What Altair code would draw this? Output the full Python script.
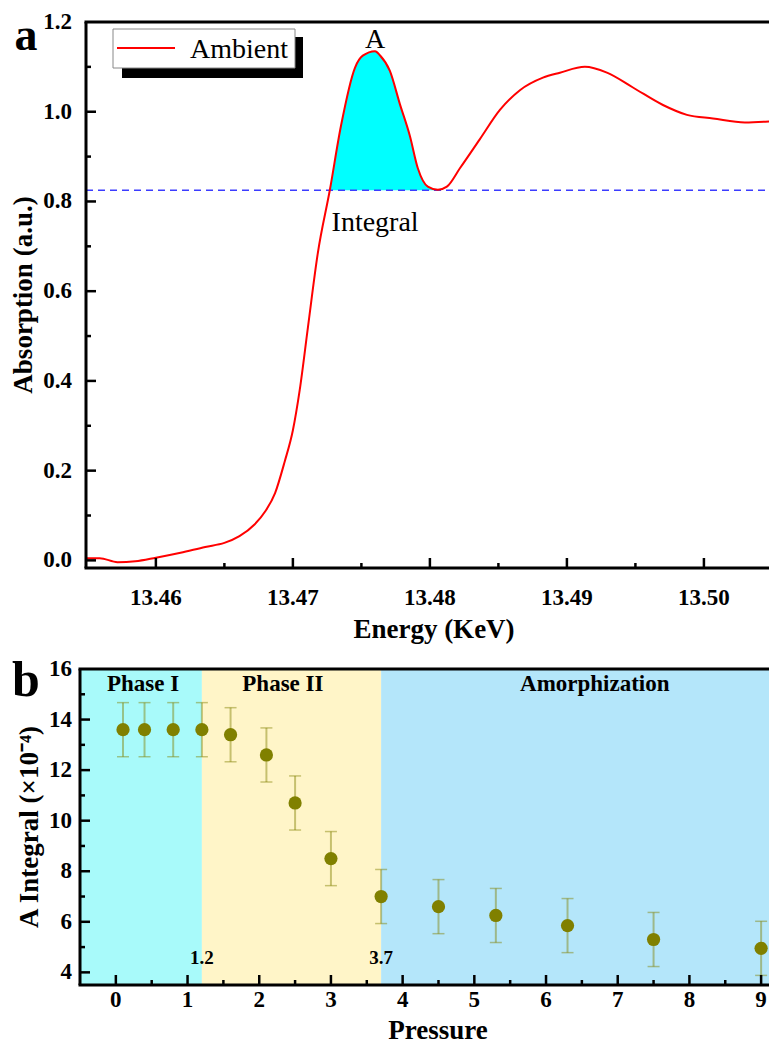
import altair as alt
import pandas as pd

FONT = "Liberation Serif"

# ---------------- panel (a) data ----------------
energy_kev = [13.4549, 13.4559, 13.4572, 13.4585, 13.4600, 13.4618, 13.4636, 13.4650,
              13.4661, 13.4672, 13.4680, 13.4687, 13.4694, 13.4700, 13.4705, 13.4711,
              13.47182, 13.4727, 13.4735, 13.47453, 13.4751, 13.4760, 13.47635, 13.47708,
              13.47781, 13.47854, 13.47912, 13.47985, 13.48058, 13.48124, 13.48219, 13.48365,
              13.48511, 13.48657, 13.48825, 13.48949, 13.49131, 13.49292, 13.49482, 13.49701,
              13.49876, 13.50066, 13.50299, 13.5054]
absorption = [0.005, 0.005, -0.004, -0.002, 0.006, 0.017, 0.030, 0.039,
              0.054, 0.080, 0.110, 0.150, 0.220, 0.290, 0.380, 0.520,
              0.685, 0.826, 0.967, 1.098, 1.125, 1.135, 1.126, 1.091,
              1.017, 0.946, 0.874, 0.833, 0.826, 0.833, 0.874, 0.939,
              1.004, 1.048, 1.076, 1.087, 1.100, 1.087, 1.054, 1.015,
              0.993, 0.985, 0.976, 0.980]
integral_level = 0.825
fill_start_kev = 13.4727
fill_end_kev = 13.48058
series_names = ["Ambient"]
annot_text = ["A", "Integral"]
annot_energy = [13.4760, 13.4760]
annot_value = [1.143, 0.735]
top_x_domain = [13.4549, 13.50475]
top_y_domain = [-0.017, 1.2]
top_x_labels = [13.46, 13.47, 13.48, 13.49, 13.50]
top_x_label_text = ["13.46", "13.47", "13.48", "13.49", "13.50"]
top_x_minor = [13.465, 13.475, 13.485, 13.495]
top_y_labels = [0.0, 0.2, 0.4, 0.6, 0.8, 1.0, 1.2]
top_y_label_text = ["0.0", "0.2", "0.4", "0.6", "0.8", "1.0", "1.2"]
top_y_major = [0.0, 0.2, 0.4, 0.6, 0.8, 1.0]
top_y_minor = [0.1, 0.3, 0.5, 0.7, 0.9, 1.1]
top_titles = ["Energy (KeV)", "Absorption (a.u.)"]

# ---------------- panel (b) data ----------------
pressure = [0.1, 0.4, 0.8, 1.2, 1.6, 2.1, 2.5, 3.0, 3.7, 4.5, 5.3, 6.3, 7.5, 9.0]
a_integral = [13.6, 13.6, 13.6, 13.6, 13.4, 12.6, 10.7, 8.5, 7.0, 6.6, 6.25, 5.85, 5.3, 4.95]
a_error = [1.07, 1.07, 1.07, 1.07, 1.07, 1.07, 1.07, 1.07, 1.07, 1.07, 1.07, 1.07, 1.07, 1.07]
phase_names = ["Phase I", "Phase II", "Amorphization"]
phase_start = [-0.5, 1.2, 3.7]
phase_end = [1.2, 3.7, 9.11]
phase_colors = ["#A8FAFA", "#FFF5C8", "#B4E6FA"]
phase_label_x = [0.38, 2.33, 6.68]
boundary_pressure = [1.2, 3.7]
boundary_text = ["1.2", "3.7"]
boundary_y = [4.55, 4.55]
bot_x_domain = [-0.5, 9.11]
bot_y_domain = [3.5, 16]
bot_x_labels = [0, 1, 2, 3, 4, 5, 6, 7, 8, 9]
bot_x_label_text = ["0", "1", "2", "3", "4", "5", "6", "7", "8", "9"]
bot_x_minor = [0.5, 1.5, 2.5, 3.5, 4.5, 5.5, 6.5, 7.5, 8.5]
bot_y_labels = [4, 6, 8, 10, 12, 14, 16]
bot_y_label_text = ["4", "6", "8", "10", "12", "14", "16"]
bot_y_major = [4, 6, 8, 10, 12, 14]
bot_y_minor = [5, 7, 9, 11, 13, 15]
bot_titles = ["Pressure", "A Integral (×10⁻⁴)"]
panel_letters = ["a", "b"]

# ---------------- layout constants ----------------
W = 689
H_TOP = 546
H_BOT = 316
X0_TOP = 6
LEFT = -72
TOP_PAD = -14
OLIVE = "#808000"
LABEL_SIZE = 23
TITLE_SIZE = 27

one = pd.DataFrame({"d": [0]})


def tick_layer(values, channel, scale, start, end):
    df = pd.DataFrame({"v": values})
    if channel == "y":
        enc = dict(y=alt.Y("v:Q", scale=scale, axis=None),
                   x=alt.value(start), x2=alt.value(end))
    else:
        enc = dict(x=alt.X("v:Q", scale=scale, axis=None),
                   y=alt.value(start), y2=alt.value(end))
    return alt.Chart(df).mark_rule(color="black", strokeWidth=2.5).encode(**enc)


def label_layer(values, texts, channel, scale, pos):
    df = pd.DataFrame({"v": values, "t": texts})
    if channel == "y":
        mk = alt.Chart(df).mark_text(font=FONT, fontSize=LABEL_SIZE, fontWeight="bold",
                                     color="black", align="right", baseline="middle")
        return mk.encode(y=alt.Y("v:Q", scale=scale, axis=None), x=alt.value(pos), text="t:N")
    mk = alt.Chart(df).mark_text(font=FONT, fontSize=LABEL_SIZE, fontWeight="bold",
                                 color="black", align="center", baseline="middle")
    return mk.encode(x=alt.X("v:Q", scale=scale, axis=None), y=alt.value(pos), text="t:N")


def title_layer(text, x, y, angle=0):
    return alt.Chart(pd.DataFrame({"t": [text]})).mark_text(
        font=FONT, fontSize=TITLE_SIZE, fontWeight="bold", color="black",
        align="center", baseline="middle", angle=angle).encode(
        x=alt.value(x), y=alt.value(y), text="t:N")


def hrule(x1, x2, y, width=3):
    return alt.Chart(one).mark_rule(color="black", strokeWidth=width).encode(
        x=alt.value(x1), x2=alt.value(x2), y=alt.value(y))


def vrule(x, y1, y2, width=3):
    return alt.Chart(one).mark_rule(color="black", strokeWidth=width).encode(
        x=alt.value(x), y=alt.value(y1), y2=alt.value(y2))


def letter_layer(text, y, size):
    return alt.Chart(pd.DataFrame({"t": [text]})).mark_text(
        font=FONT, fontSize=size, fontWeight="bold", align="center",
        baseline="alphabetic", color="black").encode(
        x=alt.value(-54), y=alt.value(y), text="t:N")


spacer = alt.Chart(one).mark_rule(opacity=0).encode(
    x=alt.value(LEFT), x2=alt.value(LEFT), y=alt.value(100), y2=alt.value(110))
spacer_top = alt.Chart(one).mark_rule(opacity=0, strokeWidth=0.5).encode(
    x=alt.value(100), x2=alt.value(110), y=alt.value(TOP_PAD))

# ================= panel (a) =================
curve = pd.DataFrame({"E": energy_kev, "A": absorption})
fill = curve[(curve.E >= fill_start_kev - 1e-9) & (curve.E <= fill_end_kev + 1e-9)]

xs_top = alt.Scale(domain=top_x_domain, range=[X0_TOP, W], nice=False, zero=False)
ys_top = alt.Scale(domain=top_y_domain, nice=False, zero=False)

area = alt.Chart(fill).mark_area(color="#00FFFF", opacity=1, interpolate="monotone").encode(
    x=alt.X("E:Q", scale=xs_top, axis=None),
    y=alt.Y("A:Q", scale=ys_top, axis=None),
    y2=alt.Y2Datum(integral_level),
)

dashed = alt.Chart(pd.DataFrame({"lvl": [integral_level]})).mark_rule(
    color="#3C3CFF", strokeDash=[7, 5], strokeWidth=1.5).encode(
    y=alt.Y("lvl:Q", scale=ys_top, axis=None),
    x=alt.value(X0_TOP), x2=alt.value(W))

line = alt.Chart(curve).mark_line(color="#FF0000", strokeWidth=2, clip=True,
                                  interpolate="monotone").encode(
    x=alt.X("E:Q", scale=xs_top, axis=None),
    y=alt.Y("A:Q", scale=ys_top, axis=None),
)

annots = alt.Chart(pd.DataFrame({"E": annot_energy, "A": annot_value, "t": annot_text})
                   ).mark_text(font=FONT, fontSize=28, baseline="alphabetic",
                               align="center", color="black").encode(
    x=alt.X("E:Q", scale=xs_top, axis=None),
    y=alt.Y("A:Q", scale=ys_top, axis=None),
    text="t:N")

leg = pd.DataFrame({"name": series_names})
leg_shadow = alt.Chart(leg).mark_rect(color="black").encode(
    x=alt.value(42), x2=alt.value(223), y=alt.value(15), y2=alt.value(56))
leg_box = alt.Chart(leg).mark_rect(fill="white", stroke="#888888", strokeWidth=1).encode(
    x=alt.value(33), x2=alt.value(215), y=alt.value(7), y2=alt.value(46))
leg_line = alt.Chart(leg).mark_rule(color="#FF0000", strokeWidth=2).encode(
    x=alt.value(37), x2=alt.value(95), y=alt.value(26))
leg_text = alt.Chart(leg).mark_text(font=FONT, fontSize=28, align="left",
                                    baseline="alphabetic", color="black").encode(
    x=alt.value(110), y=alt.value(36), text="name:N")

top = alt.layer(
    area, dashed, line, annots,
    tick_layer(top_y_major, "y", ys_top, X0_TOP, X0_TOP + 10),
    tick_layer(top_y_minor, "y", ys_top, X0_TOP, X0_TOP + 5),
    tick_layer(top_x_labels, "x", xs_top, H_TOP, H_TOP - 10),
    tick_layer(top_x_minor, "x", xs_top, H_TOP, H_TOP - 5),
    vrule(X0_TOP, 0, H_TOP),
    hrule(X0_TOP - 1.5, W, H_TOP),
    hrule(X0_TOP - 1.5, W, 0),
    label_layer(top_y_labels, top_y_label_text, "y", ys_top, X0_TOP - 14),
    label_layer(top_x_labels, top_x_label_text, "x", xs_top, H_TOP + 30),
    title_layer(top_titles[0], 354, H_TOP + 62),
    title_layer(top_titles[1], -56, H_TOP / 2, angle=270),
    leg_shadow, leg_box, leg_line, leg_text,
    letter_layer(panel_letters[0], 27.5, 46),
    spacer, spacer_top,
).properties(width=W, height=H_TOP)

# ================= panel (b) =================
xs_b = alt.Scale(domain=bot_x_domain, nice=False, zero=False)
ys_b = alt.Scale(domain=bot_y_domain, nice=False, zero=False)

phases = pd.DataFrame({"name": phase_names, "start": phase_start, "end": phase_end,
                       "col": phase_colors, "lx": phase_label_x})
bg = alt.Chart(phases).mark_rect(opacity=1).encode(
    x=alt.X("start:Q", scale=xs_b, axis=None),
    x2="end:Q",
    y=alt.value(0), y2=alt.value(H_BOT),
    color=alt.Color("col:N", scale=None),
)

pts = pd.DataFrame({"p": pressure, "v": a_integral, "e": a_error})
pts["lo"] = pts["v"] - pts["e"]
pts["hi"] = pts["v"] + pts["e"]
caps = pd.concat([pts[["p", "lo"]].rename(columns={"lo": "c"}),
                  pts[["p", "hi"]].rename(columns={"hi": "c"})])

err = alt.Chart(pts).mark_rule(color=OLIVE, opacity=0.45, strokeWidth=2).encode(
    x=alt.X("p:Q", scale=xs_b, axis=None),
    y=alt.Y("lo:Q", scale=ys_b, axis=None),
    y2="hi:Q")
cap = alt.Chart(caps).mark_rule(color=OLIVE, opacity=0.45, strokeWidth=1.5,
                                xOffset=-6, x2Offset=6).encode(
    x=alt.X("p:Q", scale=xs_b, axis=None), x2="p:Q",
    y=alt.Y("c:Q", scale=ys_b, axis=None))
dots = alt.Chart(pts).mark_circle(size=175, color=OLIVE, opacity=1).encode(
    x=alt.X("p:Q", scale=xs_b, axis=None),
    y=alt.Y("v:Q", scale=ys_b, axis=None))

phase_text = alt.Chart(phases).mark_text(font=FONT, fontSize=23, fontWeight="bold",
                                         color="black", baseline="middle").encode(
    x=alt.X("lx:Q", scale=xs_b, axis=None), y=alt.value(15), text="name:N")

bnd = pd.DataFrame({"p": boundary_pressure, "y": boundary_y, "t": boundary_text})
bnd_text = alt.Chart(bnd).mark_text(font=FONT, fontSize=19, fontWeight="bold",
                                    color="black", baseline="middle").encode(
    x=alt.X("p:Q", scale=xs_b, axis=None),
    y=alt.Y("y:Q", scale=ys_b, axis=None), text="t:N")

bottom = alt.layer(
    bg, err, cap, dots, phase_text, bnd_text,
    tick_layer(bot_y_major, "y", ys_b, 0, 10),
    tick_layer(bot_y_minor, "y", ys_b, 0, 5),
    tick_layer(bot_x_labels, "x", xs_b, H_BOT, H_BOT - 10),
    tick_layer(bot_x_minor, "x", xs_b, H_BOT, H_BOT - 5),
    vrule(0, 0, H_BOT),
    hrule(-1.5, W, H_BOT),
    hrule(-1.5, W, 0),
    label_layer(bot_y_labels, bot_y_label_text, "y", ys_b, -8),
    label_layer(bot_x_labels, bot_x_label_text, "x", xs_b, H_BOT + 15),
    title_layer(bot_titles[0], 358, H_BOT + 46),
    title_layer(bot_titles[1], -50, H_BOT / 2, angle=270),
    letter_layer(panel_letters[1], 27, 50),
    spacer,
).properties(width=W, height=H_BOT)

chart = alt.vconcat(top, bottom, spacing=13).properties(
    padding={"left": 0, "top": 0, "right": 0, "bottom": 0},
    background="white",
).configure_view(stroke=None)

chart.save("out.html", embed_options={"renderer": "svg", "actions": False})
